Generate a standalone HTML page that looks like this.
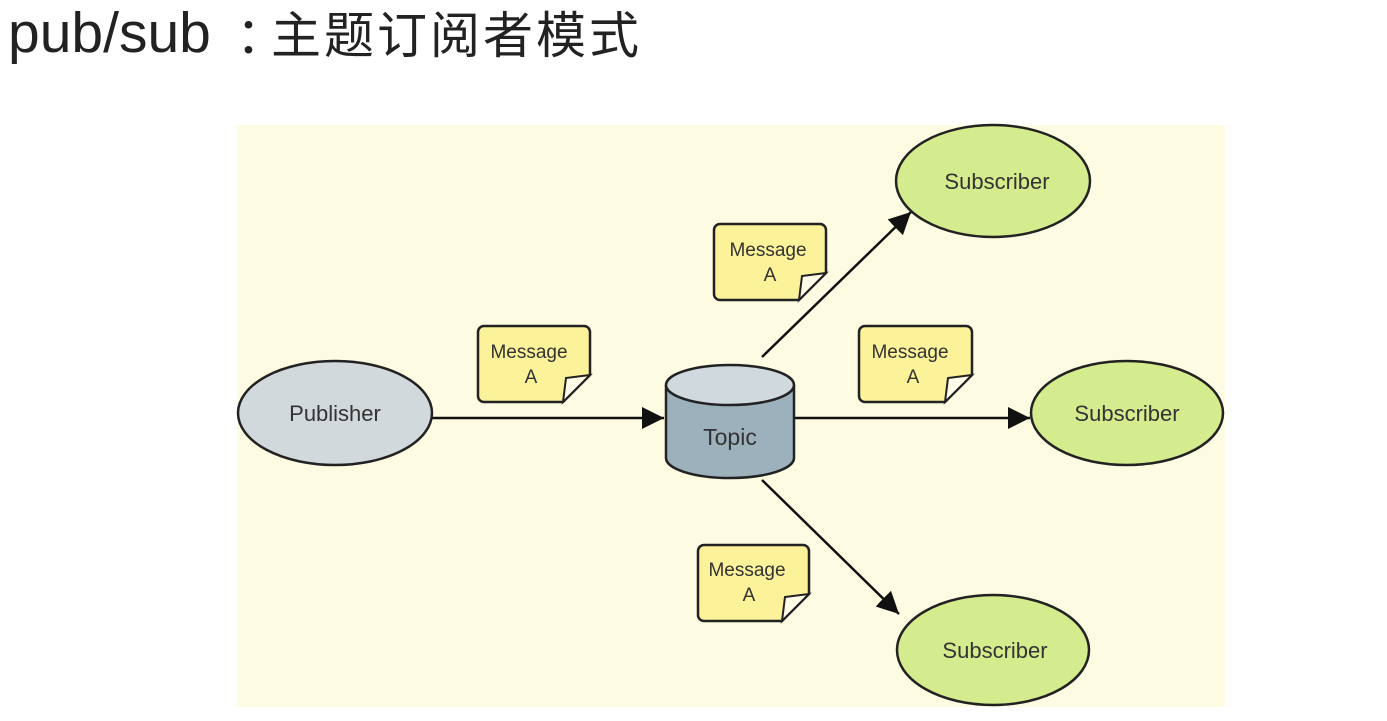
<!DOCTYPE html>
<html><head><meta charset="utf-8"><style>
body{margin:0;width:1387px;height:721px;background:#fff;overflow:hidden;font-family:"Liberation Sans","Noto Sans CJK SC",sans-serif}
.t{position:absolute;color:#222;white-space:nowrap}
</style></head><body>
<div class="t" style="left:8px;top:0px;font-size:57px">pub/sub</div>
<div class="t" style="left:236px;top:-4px;font-size:50px;font-family:'Noto Sans CJK SC',sans-serif">：</div>
<div class="t" style="left:271px;top:-4px;font-size:50px;letter-spacing:3px;font-family:'Noto Sans CJK SC',sans-serif">主题订阅者模式</div>
<svg width="1387" height="721" style="position:absolute;left:0;top:0">
<defs>
<marker id="m" viewBox="0 0 10 10" refX="10" refY="5" markerWidth="22" markerHeight="22" orient="auto" markerUnits="userSpaceOnUse"><path d="M0,0 L10,5 L0,10z" fill="#111"/></marker></defs>
<rect x="237" y="125" width="988" height="582" fill="#fefbe3"/>
<g stroke="#111" stroke-width="2.5" fill="none">
<line x1="432" y1="418" x2="664" y2="418" marker-end="url(#m)"/>
<line x1="795" y1="418" x2="1030" y2="418" marker-end="url(#m)"/>
<line x1="762" y1="357" x2="911" y2="212" marker-end="url(#m)"/>
<line x1="762" y1="480" x2="899" y2="614" marker-end="url(#m)"/>
</g>
<g stroke="#222" stroke-width="2.5">
<ellipse cx="335" cy="413" rx="97" ry="52" fill="#d2d9dc"/>
<ellipse cx="993" cy="181" rx="97" ry="56" fill="#d5ec8e"/>
<ellipse cx="1127" cy="413" rx="96" ry="52" fill="#d5ec8e"/>
<ellipse cx="993" cy="650" rx="96" ry="55" fill="#d5ec8e"/>
<path d="M666,385 L666,458 A64,20 0 0 0 794,458 L794,385" fill="#9db1bd"/>
<ellipse cx="730" cy="385" rx="64" ry="20" fill="#cfd9de"/>
</g>
<g stroke="#222" stroke-width="2.5" fill="#fbf29a">
<path d="M484,326 H584 a6,6 0 0 1 6,6 V375 L563,402 H484 a6,6 0 0 1 -6,-6 V332 a6,6 0 0 1 6,-6z"/>
<path d="M720,224 H820 a6,6 0 0 1 6,6 V273 L799,300 H720 a6,6 0 0 1 -6,-6 V230 a6,6 0 0 1 6,-6z"/>
<path d="M865,326 H966 a6,6 0 0 1 6,6 V375 L945,402 H865 a6,6 0 0 1 -6,-6 V332 a6,6 0 0 1 6,-6z"/>
<path d="M704,545 H803 a6,6 0 0 1 6,6 V594 L782,621 H704 a6,6 0 0 1 -6,-6 V551 a6,6 0 0 1 6,-6z"/>
</g>
<g stroke="#222" stroke-width="2" fill="#fffde8">
<path d="M563,402 L566,378 L590,375z"/><path d="M799,300 L802,276 L826,273z"/>
<path d="M945,402 L948,378 L972,375z"/><path d="M782,621 L785,597 L809,594z"/>
</g>
<g font-family="Liberation Sans,sans-serif" font-size="22" fill="#333" text-anchor="middle">
<text x="335" y="421">Publisher</text>
<text x="997" y="189">Subscriber</text>
<text x="1127" y="421">Subscriber</text>
<text x="995" y="658">Subscriber</text>
<text x="730" y="445" font-size="23">Topic</text>
</g>
<g font-family="Liberation Sans,sans-serif" font-size="19" fill="#333" text-anchor="middle">
<text x="529" y="358">Message</text><text x="531" y="383">A</text>
<text x="768" y="256">Message</text><text x="770" y="281">A</text>
<text x="910" y="358">Message</text><text x="913" y="383">A</text>
<text x="747" y="576">Message</text><text x="749" y="601">A</text>
</g>
</svg>
</body></html>
